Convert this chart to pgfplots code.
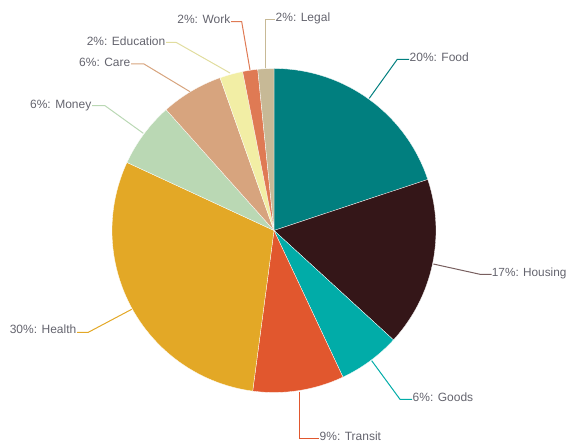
\documentclass[border=0pt]{standalone}
\usepackage{pgfplots}
\usepackage{pgfplotstable}
\pgfplotsset{compat=1.18}
\usepackage{fontspec}
\setmainfont{Liberation Sans}
\definecolor{cFood}{RGB}{1,127,127}
\definecolor{cHousing}{RGB}{52,22,24}
\definecolor{cGoods}{RGB}{1,172,168}
\definecolor{cTransit}{RGB}{225,87,46}
\definecolor{cHealth}{RGB}{227,168,38}
\definecolor{cMoney}{RGB}{186,216,180}
\definecolor{cCare}{RGB}{215,164,126}
\definecolor{cEdu}{RGB}{242,238,165}
\definecolor{cWork}{RGB}{223,122,84}
\definecolor{cLegal}{RGB}{199,185,150}
\definecolor{cHouseLine}{RGB}{120,95,95}
\definecolor{txt}{RGB}{100,100,110}

\pgfplotstableread[col sep=comma]{
name,value,col
Food,19.9,cFood
Housing,16.9,cHousing
Goods,6.2,cGoods
Transit,9.1,cTransit
Health,29.8,cHealth
Money,6.5,cMoney
Care,6.2,cCare
Education,2.3,cEdu
Work,1.5,cWork
Legal,1.6,cLegal
}\piedata

\begin{document}
\begin{tikzpicture}
\begin{axis}[
  width=567pt, height=442pt, scale only axis,
  xmin=0, xmax=567, ymin=0, ymax=442,
  axis lines=none, clip=false,
]
\def\cum{0}
\pgfplotsforeachungrouped \i in {0,...,9}{%
  \pgfplotstablegetelem{\i}{value}\of\piedata \let\v\pgfplotsretval
  \pgfplotstablegetelem{\i}{col}\of\piedata \let\c\pgfplotsretval
  \pgfmathsetmacro\a{90-\cum*3.6}%
  \pgfmathsetmacro\cum{\cum+\v}%
  \pgfmathsetmacro\b{90-\cum*3.6}%
  \edef\temp{\noexpand\fill[\c,draw=white,line width=0.3pt,line join=round]
    (axis cs:274,211.5) -- ([shift={(\a:162pt)}]axis cs:274,211.5)
    arc[start angle=\a,end angle=\b,radius=162pt] -- cycle;}%
  \temp
}
% leader lines
\begin{scope}[line width=1pt]
\draw[cLegal]  (axis cs:265.7,374) -- (axis cs:265.7,422.7) -- (axis cs:275,422.7);
\draw[cWork]   (axis cs:250,372) -- (axis cs:241.7,420.3) -- (axis cs:231,420.3);
\draw[cEdu!85!gray]    (axis cs:230,369) -- (axis cs:176,399.7) -- (axis cs:166,399.7);
\draw[cCare]   (axis cs:190,350.3) -- (axis cs:144,378) -- (axis cs:131,378);
\draw[cMoney]  (axis cs:143.3,308.7) -- (axis cs:105,336.3) -- (axis cs:92,336.3);
\draw[cHealth] (axis cs:131.7,132.7) -- (axis cs:88.3,109.7) -- (axis cs:77,109.7);
\draw[cTransit](axis cs:299.3,50.3) -- (axis cs:299.3,3.7) -- (axis cs:319,3.7);
\draw[cGoods]  (axis cs:371.7,81.3) -- (axis cs:400,42.7) -- (axis cs:412,42.7);
\draw[cHouseLine] (axis cs:433.3,178) -- (axis cs:480,167.7) -- (axis cs:491.5,167.7);
\draw[cFood]   (axis cs:369.3,343.7) -- (axis cs:397.3,382.7) -- (axis cs:409,382.7);
\end{scope}
% labels
\begin{scope}[every node/.style={text=txt,inner sep=0pt,font=\fontsize{12}{14}\selectfont}]
\node[anchor=base west] at (axis cs:275.5,420.5) {2\%: Legal};
\node[anchor=base east] at (axis cs:230.5,418.5) {2\%: Work};
\node[anchor=base east] at (axis cs:165.5,396.8) {2\%: Education};
\node[anchor=base east] at (axis cs:130.5,375.5) {6\%: Care};
\node[anchor=base east] at (axis cs:91.5,333.5) {6\%: Money};
\node[anchor=base east] at (axis cs:76.5,108.2) {30\%: Health};
\node[anchor=base west] at (axis cs:319.5,1.5) {9\%: Transit};
\node[anchor=base west] at (axis cs:412.5,40.2) {6\%: Goods};
\node[anchor=base west] at (axis cs:491.7,165.8) {\fontsize{11.8}{14}\selectfont 17\%: Housing};
\node[anchor=base west] at (axis cs:409.5,380.8) {20\%: Food};
\end{scope}
\end{axis}
\pgfresetboundingbox
\path (current axis.south west) rectangle (current axis.north east);
\end{tikzpicture}
\end{document}
